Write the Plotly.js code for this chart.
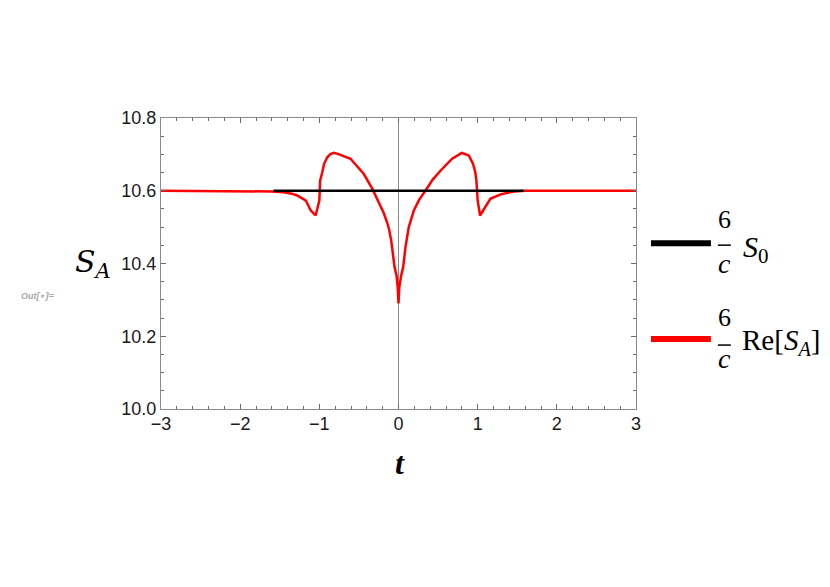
<!DOCTYPE html>
<html>
<head>
<meta charset="utf-8">
<script src="https://cdn.plot.ly/plotly-3.0.1.min.js"></script>
<style>html,body{margin:0;padding:0;background:#fff;}#chart{width:830px;height:587px;}</style>
</head>
<body>
<div id="chart"></div>
<script>
// Red curve: 6/c Re[S_A]
var tRed = [-3.0, -2.0, -1.6, -1.45, -1.35, -1.28, -1.2, -1.17, -1.11, -1.07, -1.047, -1.0, -0.995, -0.99, -0.963, -0.94, -0.90, -0.86, -0.816, -0.75, -0.606, -0.52, -0.438, -0.33, -0.27, -0.227, -0.185, -0.143, -0.12, -0.092, -0.071, -0.05, -0.025, -0.01, 0.0,
            0.01, 0.034, 0.059, 0.088, 0.13, 0.194, 0.26, 0.34, 0.43, 0.53, 0.677, 0.80, 0.888, 0.942, 0.97, 0.984, 0.99, 1.0, 1.03, 1.08, 1.16, 1.29, 1.455, 1.6, 2.0, 3.0];
var sRed = [10.6, 10.6, 10.598, 10.596, 10.592, 10.587, 10.578, 10.573, 10.546, 10.535, 10.532, 10.573, 10.605, 10.628, 10.651, 10.674, 10.692, 10.701, 10.704, 10.700, 10.688, 10.668, 10.646, 10.605, 10.578, 10.558, 10.538, 10.512, 10.495, 10.463, 10.425, 10.39, 10.367, 10.335, 10.29,
            10.335, 10.367, 10.39, 10.445, 10.5, 10.546, 10.575, 10.6, 10.63, 10.655, 10.688, 10.704, 10.697, 10.674, 10.651, 10.628, 10.605, 10.573, 10.532, 10.55, 10.578, 10.59, 10.598, 10.6, 10.6, 10.6];
// Black line: 6/c S_0
var tBlack = [-1.58, 1.58];
var sBlack = [10.6, 10.6];

var xTickVals = [-3, -2, -1, 0, 1, 2, 3];
var xTickText = ['\u22123', '\u22122', '\u22121', '0', '1', '2', '3'];
var yTickVals = [10.0, 10.2, 10.4, 10.6, 10.8];
var yTickText = ['10.0', '10.2', '10.4', '10.6', '10.8'];

var traces = [
  {x: tRed, y: sRed, mode: 'lines', line: {color: '#ff0000', width: 2.5}, hoverinfo: 'none'},
  {x: tBlack, y: sBlack, mode: 'lines', line: {color: '#000000', width: 2.5}, hoverinfo: 'none'}
];

var axisCommon = {
  showline: true, linecolor: '#8a8a8a', linewidth: 1, mirror: 'ticks',
  ticks: 'inside', ticklen: 5, tickwidth: 1, tickcolor: '#6a6a6a',
  showgrid: false,
  tickfont: {family: 'Liberation Sans, Arial, sans-serif', size: 18, color: '#1a1a1a'}
};

var layout = {
  width: 830, height: 587,
  margin: {l: 160.5, r: 194, t: 117.7, b: 178},
  paper_bgcolor: '#ffffff', plot_bgcolor: '#ffffff',
  showlegend: false,
  xaxis: Object.assign({}, axisCommon, {
    range: [-3, 3], tickmode: 'array', tickvals: xTickVals, ticktext: xTickText,
    zeroline: true, zerolinecolor: '#8a8a8a', zerolinewidth: 1, ticklabelstandoff: -2,
    minor: {dtick: 0.2, ticks: 'inside', ticklen: 3, tickcolor: '#6a6a6a', showgrid: false}
  }),
  yaxis: Object.assign({}, axisCommon, {
    range: [10.0, 10.8], tickmode: 'array', tickvals: yTickVals, ticktext: yTickText,
    zeroline: false, ticklabelstandoff: 0,
    minor: {dtick: 0.05, ticks: 'inside', ticklen: 3, tickcolor: '#6a6a6a', showgrid: false}
  }),
  shapes: [
    {type: 'line', xref: 'paper', yref: 'paper', x0: 1.0315, x1: 1.1577, y0: 0.5699, y1: 0.5699, line: {color: '#000000', width: 6}},
    {type: 'line', xref: 'paper', yref: 'paper', x0: 1.1724, x1: 1.1997, y0: 0.563, y1: 0.563, line: {color: '#000000', width: 1.5}},
    {type: 'line', xref: 'paper', yref: 'paper', x0: 1.0315, x1: 1.1577, y0: 0.2403, y1: 0.2403, line: {color: '#ff0000', width: 6}},
    {type: 'line', xref: 'paper', yref: 'paper', x0: 1.1724, x1: 1.1997, y0: 0.2197, y1: 0.2197, line: {color: '#000000', width: 1.5}}
  ],
  annotations: [
    {xref: 'paper', yref: 'paper', x: -0.144, y: 0.501, xanchor: 'center', yanchor: 'middle', showarrow: false,
     text: '<i>S</i><sub><i>A</i></sub>', font: {family: 'DejaVu Serif, Liberation Serif, serif', size: 30, color: '#000'}},
    {xref: 'paper', yref: 'paper', x: 0.5036, y: -0.185, xanchor: 'center', yanchor: 'middle', showarrow: false,
     text: '<b><i>t</i></b>', font: {family: 'Liberation Serif, DejaVu Serif, serif', size: 32, color: '#000'}},
    {xref: 'paper', yref: 'paper', x: -0.26, y: 0.388, xanchor: 'center', yanchor: 'middle', showarrow: false,
     text: '<b><i>Out[\u2218]=</i></b>', font: {family: 'Liberation Sans, Arial, sans-serif', size: 9, color: '#a8a8a8'}},
    {xref: 'paper', yref: 'paper', x: 1.186, y: 0.652, xanchor: 'center', yanchor: 'middle', showarrow: false,
     text: '6', font: {family: 'Liberation Serif, DejaVu Serif, serif', size: 26, color: '#000'}},
    {xref: 'paper', yref: 'paper', x: 1.186, y: 0.501, xanchor: 'center', yanchor: 'middle', showarrow: false,
     text: '<i>c</i>', font: {family: 'Liberation Serif, DejaVu Serif, serif', size: 28, color: '#000'}},
    {xref: 'paper', yref: 'paper', x: 1.2220, y: 0.549, xanchor: 'left', yanchor: 'middle', showarrow: false,
     text: '<i>S</i><sub>0</sub>', font: {family: 'Liberation Serif, DejaVu Serif, serif', size: 30, color: '#000'}},
    {xref: 'paper', yref: 'paper', x: 1.186, y: 0.3158, xanchor: 'center', yanchor: 'middle', showarrow: false,
     text: '6', font: {family: 'Liberation Serif, DejaVu Serif, serif', size: 26, color: '#000'}},
    {xref: 'paper', yref: 'paper', x: 1.186, y: 0.1735, xanchor: 'center', yanchor: 'middle', showarrow: false,
     text: '<i>c</i>', font: {family: 'Liberation Serif, DejaVu Serif, serif', size: 28, color: '#000'}},
    {xref: 'paper', yref: 'paper', x: 1.2190, y: 0.230, xanchor: 'left', yanchor: 'middle', showarrow: false,
     text: 'Re[<i>S</i><sub><i>A</i></sub>]', font: {family: 'Liberation Serif, DejaVu Serif, serif', size: 29, color: '#000'}}
  ]
};

Plotly.newPlot('chart', traces, layout, {staticPlot: true, displayModeBar: false});
</script>
</body>
</html>
